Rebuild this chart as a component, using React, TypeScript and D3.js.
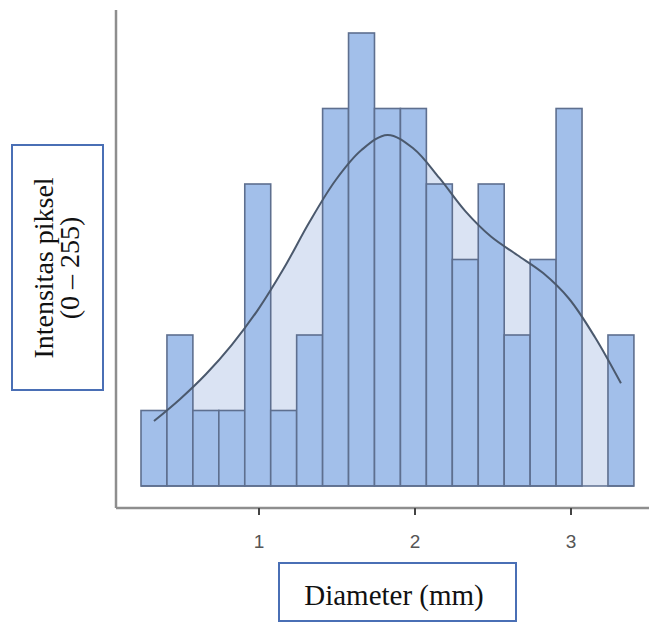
import React from "react";
import * as d3 from "d3";

// Histogram bins (diameter, mm)
const binStart = 0.2436;
const binWidth = 0.1663;
const counts = [1, 2, 1, 1, 4, 1, 2, 5, 6, 5, 5, 4, 3, 4, 2, 3, 5, 0, 2];
// density curve values at bin centres
const curveValues = [0.86, 1.15, 1.48, 1.87, 2.33, 2.88, 3.5, 4.05, 4.45, 4.65, 4.47, 4.08, 3.64, 3.3, 3.06, 2.82, 2.48, 1.97, 1.36];
const xTicks = [1, 2, 3];
const xLabel = "Diameter (mm)";
const yLabelLines = ["Intensitas piksel", "(0 – 255)"];

export default function App() {
  const W = 649;
  const H = 623;
  const x = d3.scaleLinear().domain([1, 3]).range([259, 571]);
  const y = d3.scaleLinear().domain([0, 6]).range([486, 33]);

  const bins = counts.map((c, i) => {
    const x0 = binStart + i * binWidth;
    return { x0, x1: x0 + binWidth, c, curve: curveValues[i] };
  });

  const cx = (d: { x0: number; x1: number }) => x((d.x0 + d.x1) / 2);
  const curveType = d3.curveCatmullRom.alpha(0.5);
  const line = d3
    .line<{ x0: number; x1: number; curve: number }>()
    .x(cx)
    .y((d) => y(d.curve))
    .curve(curveType);
  const area = d3
    .area<{ x0: number; x1: number; curve: number }>()
    .x(cx)
    .y0(y(0))
    .y1((d) => y(d.curve))
    .curve(curveType);

  const axisColor = "#8e8e8e";
  const barFill = "#a2bfea";
  const barStroke = "#5e6f8f";
  const lightFill = "#dae3f3";
  const boxStroke = "#4a6fb5";

  return (
    <svg
      width={W}
      height={H}
      style={{ position: "absolute", left: 0, top: 0, background: "#fff" }}
    >
      {/* light area under density */}
      <path d={area(bins) || ""} fill={lightFill} />
      {/* bars */}
      {bins.map((b, i) =>
        b.c > 0 ? (
          <rect
            key={"b" + i}
            x={x(b.x0)}
            y={y(b.c)}
            width={x(b.x1) - x(b.x0)}
            height={y(0) - y(b.c)}
            fill={barFill}
            stroke={barStroke}
            strokeWidth={1.6}
          />
        ) : null
      )}
      {/* baseline under all bins */}
      <line
        x1={x(binStart)}
        x2={x(binStart + counts.length * binWidth)}
        y1={y(0)}
        y2={y(0)}
        stroke={barStroke}
        strokeWidth={1.6}
      />
      {/* density curve */}
      <path d={line(bins) || ""} fill="none" stroke="#4b596d" strokeWidth={2} />

      {/* axes */}
      <line x1={116} x2={116} y1={10} y2={508} stroke={axisColor} strokeWidth={2.5} />
      <line x1={116} x2={W} y1={508} y2={508} stroke={axisColor} strokeWidth={2.5} />
      {xTicks.map((t) => (
        <g key={t}>
          <line x1={x(t)} x2={x(t)} y1={508} y2={515} stroke="#444" strokeWidth={2} />
          <text
            x={x(t)}
            y={548}
            textAnchor="middle"
            fontFamily="Liberation Sans, Arial, sans-serif"
            fontSize={19}
            fill="#555"
          >
            {t}
          </text>
        </g>
      ))}

      {/* y label box */}
      <rect x={12} y={145} width={91} height={245} fill="#fff" stroke={boxStroke} strokeWidth={2} />
      {yLabelLines.map((s, i) => (
        <text
          key={i}
          transform={`translate(${53 + i * 26},268) rotate(-90)`}
          textAnchor="middle"
          fontFamily="Liberation Serif, Times New Roman, serif"
          fontSize={28}
          fill="#111"
        >
          {s}
        </text>
      ))}

      {/* x label box */}
      <rect x={279} y={563} width={237} height={58} fill="#fff" stroke={boxStroke} strokeWidth={2} />
      <text
        x={394}
        y={605}
        textAnchor="middle"
        fontFamily="Liberation Serif, Times New Roman, serif"
        fontSize={29}
        fill="#111"
      >
        {xLabel}
      </text>
    </svg>
  );
}
